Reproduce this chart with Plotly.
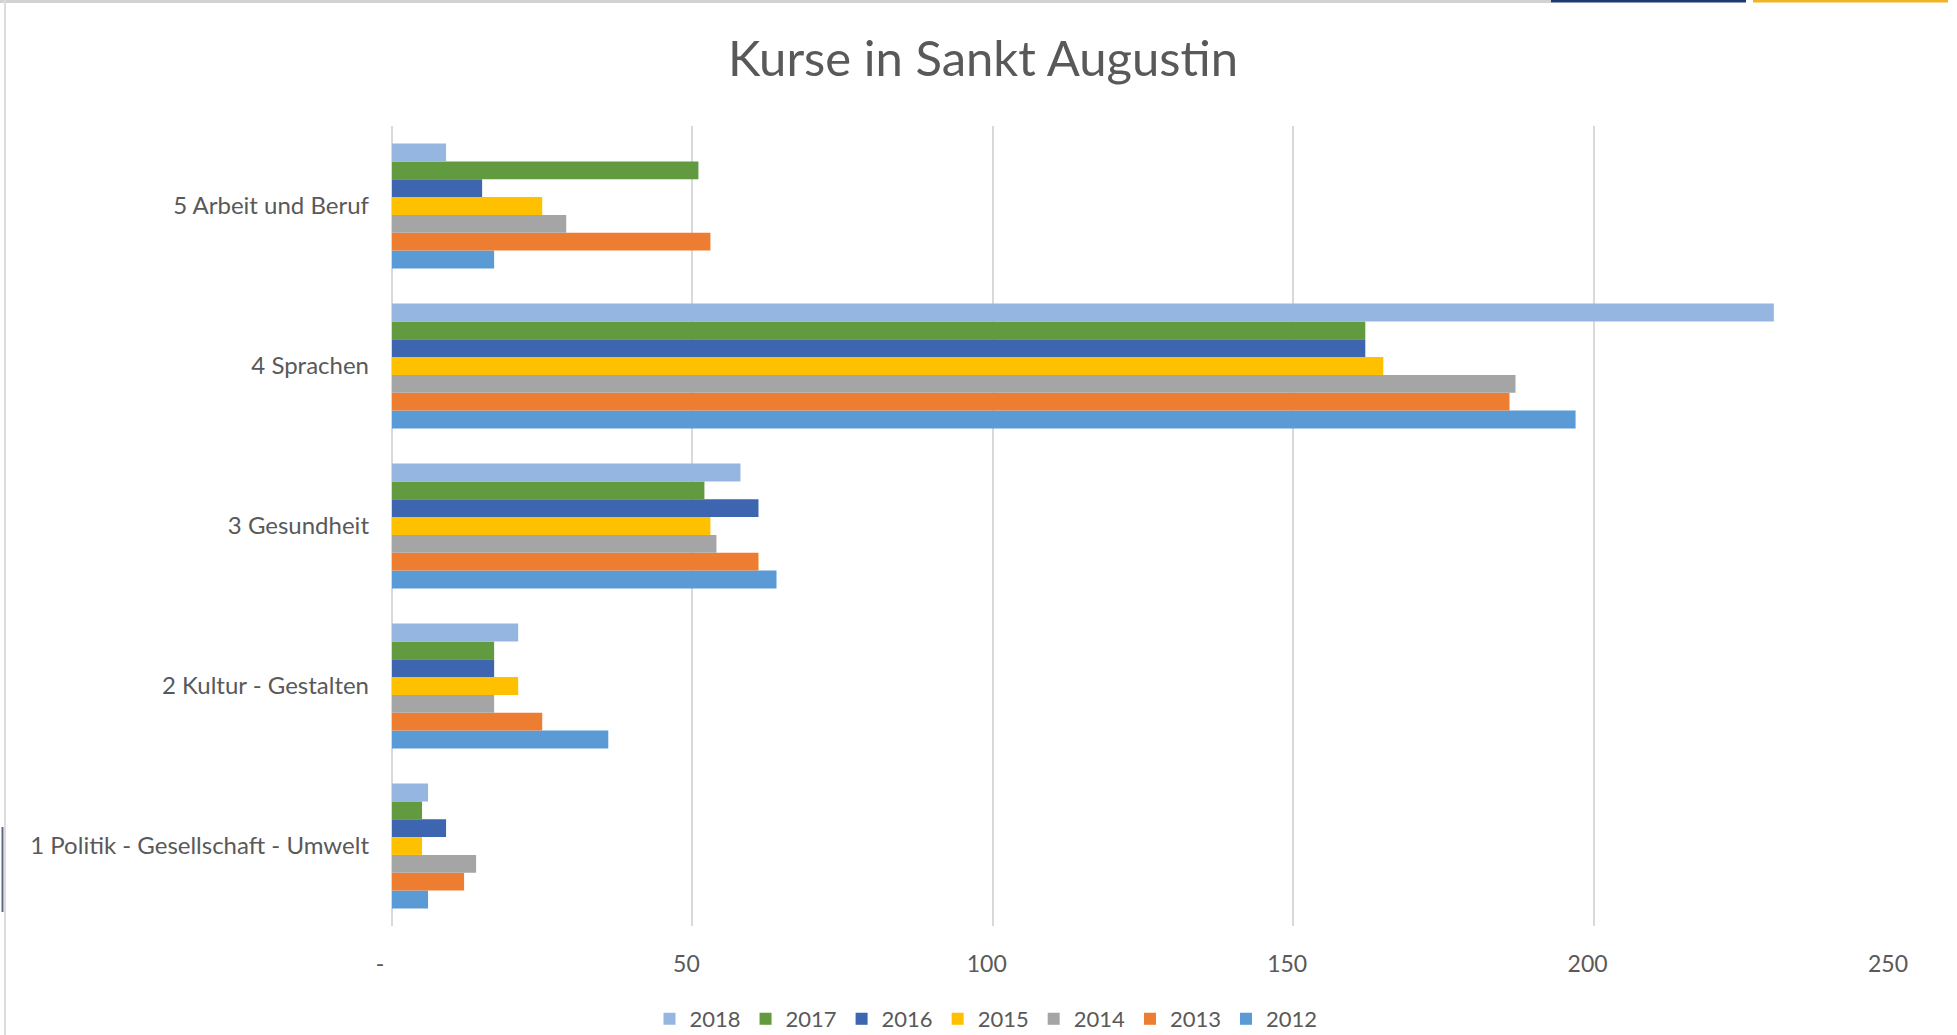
import plotly.graph_objects as go

categories = ["1 Politik - Gesellschaft - Umwelt", "2 Kultur - Gestalten",
              "3 Gesundheit", "4 Sprachen", "5 Arbeit und Beruf"]
years = ["2012", "2013", "2014", "2015", "2016", "2017", "2018"]
v2012 = [6, 36, 64, 197, 17]
v2013 = [12, 25, 61, 186, 53]
v2014 = [14, 17, 54, 187, 29]
v2015 = [5, 21, 53, 165, 25]
v2016 = [9, 17, 61, 162, 15]
v2017 = [5, 17, 52, 162, 51]
v2018 = [6, 21, 58, 230, 9]
series = [v2012, v2013, v2014, v2015, v2016, v2017, v2018]
colors = ["#5B9BD5", "#ED7D31", "#A5A5A5", "#FFC000", "#3E65AF", "#629A3F", "#95B6E0"]
tick_vals = [0, 50, 100, 150, 200, 250]
tick_text = ["-\u00a0\u00a0", "50", "100", "150", "200", "250"]

W, H = 1957, 1035
ML, MR, MT, MB = 392, 63, 126, 109
PW, PH = W - ML - MR, H - MT - MB

def px_x(x):
    return (x - ML) / PW

def px_y(y):
    return (H - MB - y) / PH

FONT = "Lato"
TXT = "#595959"

fig = go.Figure()
for yr, vals, col in zip(years, series, colors):
    fig.add_trace(go.Bar(
        name=yr, y=categories, x=vals, orientation="h",
        marker=dict(color=col, line=dict(width=0)),
    ))

shapes = [
    dict(type="line", xref="paper", yref="paper", x0=px_x(0), x1=px_x(1551),
         y0=px_y(1.5), y1=px_y(1.5), line=dict(color="#d2d2d2", width=3)),
    dict(type="line", xref="paper", yref="paper", x0=px_x(1551), x1=px_x(1746),
         y0=px_y(1), y1=px_y(1), line=dict(color="#1F3A6E", width=3)),
    dict(type="line", xref="paper", yref="paper", x0=px_x(1753), x1=px_x(1948),
         y0=px_y(1), y1=px_y(1), line=dict(color="#F0B323", width=3)),
    dict(type="line", xref="paper", yref="paper", x0=px_x(5), x1=px_x(5),
         y0=px_y(0), y1=px_y(H), line=dict(color="#dcdcdc", width=2)),
    dict(type="line", xref="paper", yref="paper", x0=px_x(2.5), x1=px_x(2.5),
         y0=px_y(827), y1=px_y(912), line=dict(color="#5a6a80", width=2)),
]

fig.update_layout(
    width=W, height=H,
    margin=dict(l=ML, r=MR, t=MT, b=MB),
    paper_bgcolor="white", plot_bgcolor="white",
    barmode="group", bargap=0.22, bargroupgap=0,
    font=dict(family=FONT, color=TXT),
    title=dict(text="Kurse in Sankt Augustin", x=983 / W, xref="container",
               xanchor="center", y=1 - 59 / H, yref="container", yanchor="middle",
               font=dict(family=FONT, size=49, color=TXT)),
    legend=dict(orientation="h", traceorder="reversed", x=986 / W, xref="container",
                xanchor="center", y=16 / H, yref="container", yanchor="middle",
                font=dict(family=FONT, size=22, color=TXT), bgcolor="rgba(0,0,0,0)"),
    xaxis=dict(range=[0, 250], tickvals=tick_vals, ticktext=tick_text,
               showgrid=True, gridcolor="#d9d9d9", gridwidth=2,
               zeroline=True, zerolinecolor="#d9d9d9", zerolinewidth=2,
               showline=False, ticks="", ticklabelshift=-6, ticklabelstandoff=22,
               tickfont=dict(family=FONT, size=23, color=TXT), fixedrange=True),
    yaxis=dict(categoryorder="array", categoryarray=categories, showgrid=False,
               zeroline=False, showline=False, ticks="", ticklabelstandoff=22,
               tickfont=dict(family=FONT, size=24, color=TXT), fixedrange=True),
    shapes=shapes,
    showlegend=True,
)

fig.write_html("out.html", config={"displayModeBar": False},
               post_script="document.body.style.margin='0';document.body.style.overflow='hidden';")
